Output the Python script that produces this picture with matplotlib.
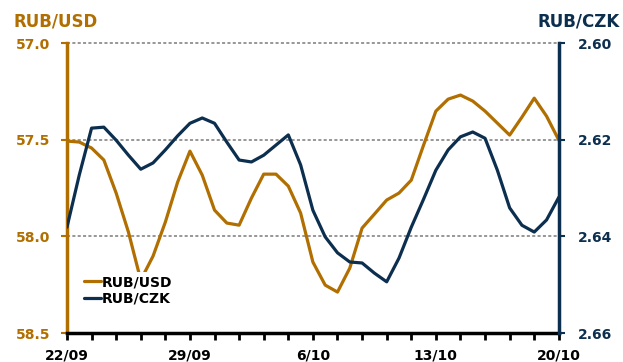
import numpy as np
import matplotlib
matplotlib.use("Agg")
import matplotlib.pyplot as plt

# business days 22/09 .. 20/10, read at half-day steps
day_labels = ["22/09", "29/09", "6/10", "13/10", "20/10"]

rub_usd = [57.507, 57.512, 57.543, 57.605, 57.776, 57.978, 58.226, 58.102, 57.926, 57.719,
           57.559, 57.683, 57.864, 57.931, 57.942, 57.802, 57.678, 57.678, 57.740, 57.879,
           58.133, 58.252, 58.288, 58.164, 57.957, 57.885, 57.812, 57.776, 57.709, 57.528,
           57.352, 57.290, 57.269, 57.300, 57.352, 57.414, 57.476, 57.383, 57.285, 57.378,
           57.502]

rub_czk = [2.6381, 2.6273, 2.6176, 2.6174, 2.6201, 2.6232, 2.6261, 2.6248, 2.6221, 2.6192,
           2.6166, 2.6155, 2.6166, 2.6205, 2.6242, 2.6246, 2.6232, 2.6211, 2.6190, 2.6252,
           2.6346, 2.6401, 2.6434, 2.6453, 2.6455, 2.6476, 2.6494, 2.6445, 2.6381, 2.6323,
           2.6263, 2.6221, 2.6194, 2.6184, 2.6197, 2.6263, 2.6341, 2.6377, 2.6391, 2.6366,
           2.6319]

usd_ticks = [57.0, 57.5, 58.0, 58.5]
czk_ticks = [2.60, 2.62, 2.64, 2.66]

orange = "#b06f00"
navy = "#0d2f4f"

x = np.arange(len(rub_usd)) * 0.5

fig = plt.figure(figsize=(6.23, 3.62), dpi=100)
ax = fig.add_axes([0.1075, 0.080, 0.7895, 0.801])
ax2 = ax.twinx()

l1, = ax.plot(x, rub_usd, color=orange, lw=2.3, solid_capstyle="round",
              solid_joinstyle="round", label="RUB/USD")
l2, = ax2.plot(x, rub_czk, color=navy, lw=2.3, solid_capstyle="round",
               solid_joinstyle="round", label="RUB/CZK")

ax.set_xlim(0, 20)
ax.set_ylim(58.5, 57.0)
ax2.set_ylim(2.66, 2.60)

for v in usd_ticks[:-1]:
    ax.axhline(v, color="#7a7a7a", lw=1.1, ls=(0, (2, 1.5)), zorder=0, clip_on=False)

ax.set_yticks(usd_ticks)
ax.set_yticklabels([f"{v:.1f}" for v in usd_ticks])
ax2.set_yticks(czk_ticks)
ax2.set_yticklabels([f"{v:.2f}" for v in czk_ticks])
ax.xaxis.set_ticks_position("bottom")
ax.set_xticks(np.arange(0, 21))
ax.set_xticklabels([day_labels[i // 5] if i % 5 == 0 else "" for i in range(21)])

ax.tick_params(axis="y", colors=orange, length=4, width=1.5, pad=8, labelsize=10)
ax2.tick_params(axis="y", colors=navy, length=4, width=1.5, pad=10, labelsize=10)
ax.tick_params(axis="x", direction="out", length=5, width=2, pad=6, labelsize=10,
               color="black", bottom=True)
for lab in ax.get_yticklabels() + ax2.get_yticklabels() + ax.get_xticklabels():
    lab.set_fontweight("bold")

for a in (ax, ax2):
    a.spines["top"].set_visible(False)
    a.spines["left"].set_visible(False)
    a.spines["right"].set_visible(False)
ax.spines["left"].set_visible(True)
ax.spines["left"].set_color(orange)
ax.spines["left"].set_linewidth(2.5)
ax2.spines["right"].set_visible(True)
ax2.spines["right"].set_color(navy)
ax2.spines["right"].set_linewidth(2.5)
ax.spines["bottom"].set_linewidth(2.5)
ax2.spines["bottom"].set_visible(False)

leg = ax2.legend(handles=[l1, l2], loc="lower left", bbox_to_anchor=(0.015, 0.06),
                 frameon=True, handlelength=1.2, handletextpad=0.1, labelspacing=0.2,
                 borderpad=0.2, prop={"weight": "bold", "size": 10})
leg.get_frame().set_edgecolor("none")
leg.get_frame().set_facecolor("white")
leg.get_frame().set_alpha(1)

fig.text(0.021, 1 - 22 / 362, "RUB/USD", color=orange, fontsize=12, fontweight="bold",
         ha="left", va="center")
fig.text(0.994, 1 - 22 / 362, "RUB/CZK", color=navy, fontsize=12, fontweight="bold",
         ha="right", va="center")

fig.savefig("out.png", dpi=100)
